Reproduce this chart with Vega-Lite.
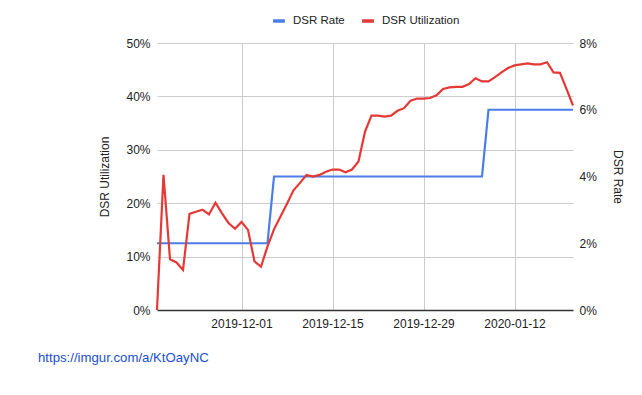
{
  "$schema": "https://vega.github.io/schema/vega-lite/v6.json",
  "width": 416,
  "height": 267,
  "autosize": "none",
  "padding": {"left": 157, "top": 43, "right": 69, "bottom": 85},
  "background": "white",
  "title": {
    "text": "https://imgur.com/a/KtOayNC",
    "orient": "bottom",
    "anchor": "start",
    "frame": "group",
    "dx": -119,
    "offset": 23,
    "fontSize": 13.2,
    "fontWeight": "normal",
    "font": "Liberation Sans",
    "color": "#1a4fcf"
  },
  "data": {
    "values": [
      {"date": "2019-11-18T00:00", "util": 0.0, "rate": 0.02},
      {"date": "2019-11-19T00:00", "util": 0.253, "rate": 0.02},
      {"date": "2019-11-20T00:00", "util": 0.095, "rate": 0.02},
      {"date": "2019-11-21T00:00", "util": 0.089, "rate": 0.02},
      {"date": "2019-11-22T00:00", "util": 0.075, "rate": 0.02},
      {"date": "2019-11-23T00:00", "util": 0.180, "rate": 0.02},
      {"date": "2019-11-24T00:00", "util": 0.184, "rate": 0.02},
      {"date": "2019-11-25T00:00", "util": 0.188, "rate": 0.02},
      {"date": "2019-11-26T00:00", "util": 0.179, "rate": 0.02},
      {"date": "2019-11-27T00:00", "util": 0.201, "rate": 0.02},
      {"date": "2019-11-28T00:00", "util": 0.181, "rate": 0.02},
      {"date": "2019-11-29T00:00", "util": 0.163, "rate": 0.02},
      {"date": "2019-11-30T00:00", "util": 0.152, "rate": 0.02},
      {"date": "2019-12-01T00:00", "util": 0.165, "rate": 0.02},
      {"date": "2019-12-02T00:00", "util": 0.150, "rate": 0.02},
      {"date": "2019-12-03T00:00", "util": 0.091, "rate": 0.02},
      {"date": "2019-12-04T00:00", "util": 0.081, "rate": 0.02},
      {"date": "2019-12-05T00:00", "util": 0.119, "rate": 0.02},
      {"date": "2019-12-06T00:00", "util": 0.151, "rate": 0.04},
      {"date": "2019-12-07T00:00", "util": 0.175, "rate": 0.04},
      {"date": "2019-12-08T00:00", "util": 0.199, "rate": 0.04},
      {"date": "2019-12-09T00:00", "util": 0.224, "rate": 0.04},
      {"date": "2019-12-10T00:00", "util": 0.238, "rate": 0.04},
      {"date": "2019-12-11T00:00", "util": 0.253, "rate": 0.04},
      {"date": "2019-12-12T00:00", "util": 0.250, "rate": 0.04},
      {"date": "2019-12-13T00:00", "util": 0.253, "rate": 0.04},
      {"date": "2019-12-14T00:00", "util": 0.259, "rate": 0.04},
      {"date": "2019-12-15T00:00", "util": 0.263, "rate": 0.04},
      {"date": "2019-12-16T00:00", "util": 0.263, "rate": 0.04},
      {"date": "2019-12-17T00:00", "util": 0.258, "rate": 0.04},
      {"date": "2019-12-18T00:00", "util": 0.263, "rate": 0.04},
      {"date": "2019-12-19T00:00", "util": 0.278, "rate": 0.04},
      {"date": "2019-12-20T00:00", "util": 0.334, "rate": 0.04},
      {"date": "2019-12-21T00:00", "util": 0.364, "rate": 0.04},
      {"date": "2019-12-22T00:00", "util": 0.364, "rate": 0.04},
      {"date": "2019-12-23T00:00", "util": 0.362, "rate": 0.04},
      {"date": "2019-12-24T00:00", "util": 0.364, "rate": 0.04},
      {"date": "2019-12-25T00:00", "util": 0.373, "rate": 0.04},
      {"date": "2019-12-26T00:00", "util": 0.378, "rate": 0.04},
      {"date": "2019-12-27T00:00", "util": 0.392, "rate": 0.04},
      {"date": "2019-12-28T00:00", "util": 0.396, "rate": 0.04},
      {"date": "2019-12-29T00:00", "util": 0.396, "rate": 0.04},
      {"date": "2019-12-30T00:00", "util": 0.397, "rate": 0.04},
      {"date": "2019-12-31T00:00", "util": 0.402, "rate": 0.04},
      {"date": "2020-01-01T00:00", "util": 0.414, "rate": 0.04},
      {"date": "2020-01-02T00:00", "util": 0.417, "rate": 0.04},
      {"date": "2020-01-03T00:00", "util": 0.418, "rate": 0.04},
      {"date": "2020-01-04T00:00", "util": 0.418, "rate": 0.04},
      {"date": "2020-01-05T00:00", "util": 0.423, "rate": 0.04},
      {"date": "2020-01-06T00:00", "util": 0.434, "rate": 0.04},
      {"date": "2020-01-07T00:00", "util": 0.428, "rate": 0.04},
      {"date": "2020-01-08T00:00", "util": 0.428, "rate": 0.06},
      {"date": "2020-01-09T00:00", "util": 0.436, "rate": 0.06},
      {"date": "2020-01-10T00:00", "util": 0.445, "rate": 0.06},
      {"date": "2020-01-11T00:00", "util": 0.453, "rate": 0.06},
      {"date": "2020-01-12T00:00", "util": 0.458, "rate": 0.06},
      {"date": "2020-01-13T00:00", "util": 0.460, "rate": 0.06},
      {"date": "2020-01-14T00:00", "util": 0.462, "rate": 0.06},
      {"date": "2020-01-15T00:00", "util": 0.460, "rate": 0.06},
      {"date": "2020-01-16T00:00", "util": 0.460, "rate": 0.06},
      {"date": "2020-01-17T00:00", "util": 0.464, "rate": 0.06},
      {"date": "2020-01-18T00:00", "util": 0.445, "rate": 0.06},
      {"date": "2020-01-19T00:00", "util": 0.444, "rate": 0.06},
      {"date": "2020-01-20T00:00", "util": 0.414, "rate": 0.06},
      {"date": "2020-01-21T00:00", "util": 0.383, "rate": 0.06}
    ]
  },
  "encoding": {
    "x": {
      "field": "date",
      "type": "temporal",
      "scale": {"domain": [{"year": 2019, "month": 11, "date": 18}, {"year": 2020, "month": 1, "date": 21}]},
      "axis": {
        "title": null,
        "format": "%Y-%m-%d",
        "values": [{"year": 2019, "month": 12, "date": 1}, {"year": 2019, "month": 12, "date": 15}, {"year": 2019, "month": 12, "date": 29}, {"year": 2020, "month": 1, "date": 12}],
        "ticks": false,
        "grid": true,
        "gridColor": "#cccccc",
        "domainColor": "#333333",
        "domainWidth": 1.5,
        "labelPadding": 8,
        "labelAngle": 0
      }
    }
  },
  "layer": [
    {
      "mark": {"type": "line", "strokeWidth": 2.2, "interpolate": "linear"},
      "encoding": {
        "y": {
          "field": "rate",
          "type": "quantitative",
          "scale": {"domain": [0, 0.08]},
          "axis": {
            "orient": "right",
            "title": "DSR Rate",
            "format": ".0%",
            "values": [0, 0.02, 0.04, 0.06, 0.08],
            "grid": false,
            "ticks": false,
            "domain": false,
            "labelPadding": 6,
            "titlePadding": 14
          }
        },
        "color": {"datum": "DSR Rate", "type": "nominal"}
      }
    },
    {
      "mark": {"type": "line", "strokeWidth": 2.2, "interpolate": "linear"},
      "encoding": {
        "y": {
          "field": "util",
          "type": "quantitative",
          "scale": {"domain": [0, 0.5]},
          "axis": {
            "orient": "left",
            "title": "DSR Utilization",
            "format": ".0%",
            "values": [0, 0.1, 0.2, 0.3, 0.4, 0.5],
            "grid": true,
            "gridColor": "#cccccc",
            "ticks": false,
            "domain": false,
            "labelPadding": 7,
            "titlePadding": 14
          }
        },
        "color": {"datum": "DSR Utilization", "type": "nominal"}
      }
    }
  ],
  "resolve": {"scale": {"y": "independent"}},
  "config": {
    "font": "Liberation Sans",
    "view": {"stroke": null},
    "axis": {
      "labelFont": "Liberation Sans",
      "labelFontSize": 12,
      "labelColor": "#222222",
      "titleFont": "Liberation Sans",
      "titleFontSize": 12,
      "titleFontWeight": "normal",
      "titleColor": "#222222"
    },
    "range": {"category": ["#4a7de8", "#e53935"]},
    "legend": {
      "orient": "none",
      "legendX": 114,
      "legendY": -30,
      "direction": "horizontal",
      "title": null,
      "symbolType": "stroke",
      "symbolStrokeWidth": 3.5,
      "symbolSize": 140,
      "labelFont": "Liberation Sans",
      "labelFontSize": 11.5,
      "labelColor": "#222222",
      "columnPadding": 10,
      "labelOffset": 6
    }
  }
}
